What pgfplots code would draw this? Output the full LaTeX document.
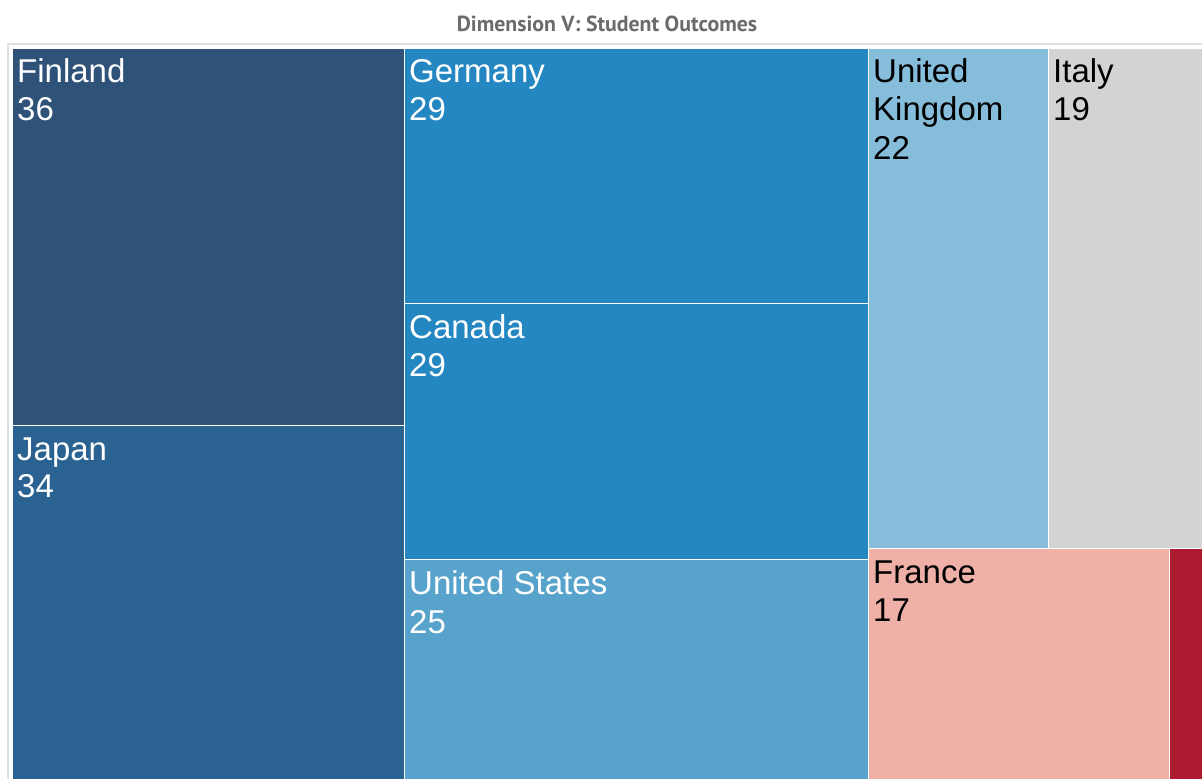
\documentclass[border=0pt]{standalone}
\usepackage{pgfplots}
\pgfplotsset{compat=1.18}
\usepackage{fontspec}
\setmainfont{Liberation Sans}
\newfontfamily\titlefont{PT Sans}
\definecolor{cFin}{HTML}{2F5279}
\definecolor{cJap}{HTML}{2A6291}
\definecolor{cGer}{HTML}{2587C1}
\definecolor{cUS}{HTML}{58A3CC}
\definecolor{cUK}{HTML}{85BDDB}
\definecolor{cIta}{HTML}{D3D3D3}
\definecolor{cFra}{HTML}{EEB0A7}
\definecolor{cRed}{HTML}{AD1B30}
\definecolor{cTitle}{HTML}{6B6B6B}
\definecolor{cFrame}{HTML}{DADFE3}
\newcommand{\lab}[4]{\node[anchor=base west, inner sep=0pt, text=#3, font=\fontsize{33}{38}\selectfont] at (axis cs:#1,#2) {#4};}
\begin{document}
\begin{tikzpicture}
\begin{axis}[scale only axis, width=1202pt, height=779pt,
  xmin=0, xmax=1202, ymin=0, ymax=779, y dir=reverse, hide axis, clip=true]
% background
\addplot[fill=white, draw=none] coordinates {(0,0) (1202,0) (1202,779) (0,779)} --cycle;
% frame
\addplot[draw=cFrame, line width=1.5pt] coordinates {(8,779) (8,44) (1202,44)};
% tiles (pixel extents)
\addplot[fill=cFin, draw=white, line width=1pt] coordinates {(12,48) (404,48) (404,425) (12,425)} --cycle;
\addplot[fill=cJap, draw=white, line width=1pt] coordinates {(12,425) (404,425) (404,781) (12,781)} --cycle;
\addplot[fill=cGer, draw=white, line width=1pt] coordinates {(404,48) (868,48) (868,303) (404,303)} --cycle;
\addplot[fill=cGer, draw=white, line width=1pt] coordinates {(404,303) (868,303) (868,559) (404,559)} --cycle;
\addplot[fill=cUS, draw=white, line width=1pt] coordinates {(404,559) (868,559) (868,781) (404,781)} --cycle;
\addplot[fill=cUK, draw=white, line width=1pt] coordinates {(868,48) (1048,48) (1048,548) (868,548)} --cycle;
\addplot[fill=cIta, draw=white, line width=1pt] coordinates {(1048,48) (1204,48) (1204,548) (1048,548)} --cycle;
\addplot[fill=cFra, draw=white, line width=1pt] coordinates {(868,548) (1169,548) (1169,781) (868,781)} --cycle;
\addplot[fill=cRed, draw=white, line width=1pt] coordinates {(1169,548) (1204,548) (1204,781) (1169,781)} --cycle;
% labels
\lab{17}{82}{white}{Finland}
\lab{17}{120}{white}{36}
\lab{17}{460}{white}{Japan}
\lab{17}{497}{white}{34}
\lab{409}{82}{white}{Germany}
\lab{409}{120}{white}{29}
\lab{409}{338}{white}{Canada}
\lab{409}{376}{white}{29}
\lab{409}{594}{white}{United States}
\lab{409}{633}{white}{25}
\lab{873}{82}{black}{United}
\lab{873}{120}{black}{Kingdom}
\lab{873}{159}{black}{22}
\lab{1053}{82}{black}{Italy}
\lab{1053}{120}{black}{19}
\lab{873}{583}{black}{France}
\lab{873}{621}{black}{17}
% title
\node[anchor=base, inner sep=0pt, text=cTitle, font=\titlefont\bfseries\fontsize{21.8}{26}\selectfont] at (axis cs:607,31) {Dimension V: Student Outcomes};
\end{axis}
\end{tikzpicture}
\end{document}
